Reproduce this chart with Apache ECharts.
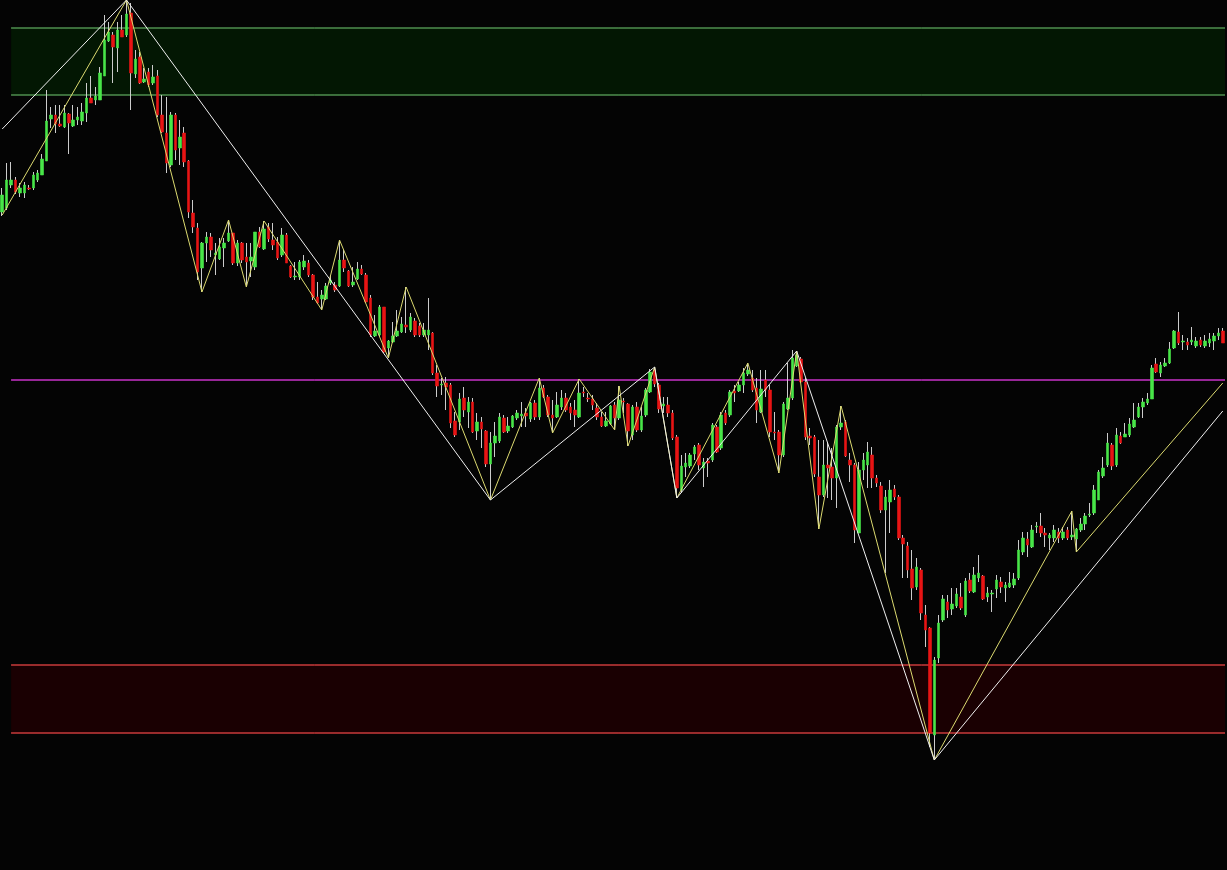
<!DOCTYPE html>
<html>
<head>
<meta charset="utf-8">
<script src="https://cdn.jsdelivr.net/npm/echarts@6/dist/echarts.min.js"></script>
<style>
html,body{margin:0;padding:0;background:#040404;}
#chart{width:1227px;height:870px;}
</style>
</head>
<body>
<div id="chart"></div>
<script>
// ---- candle data (open, close, low, high) ----
const opens = [
658,662,685,690,677,677,682,682,690,695,
709,751,755,746,743,756,744,750,749,757,
772,770,770,794,829,835,822,840,835,857,
796,813,788,798,787,794,755,737,705,755,
722,737,709,657,642,602,627,633,615,611,
622,629,637,607,627,613,609,603,638,621,
643,630,628,615,635,604,593,593,603,607,
595,573,571,571,587,585,584,610,599,585,
591,601,595,572,534,535,563,522,528,534,
538,545,540,549,544,535,535,537,497,485,
487,485,449,448,472,458,468,439,448,439,
406,427,429,452,439,443,452,454,457,451,
467,453,482,473,455,453,463,472,463,460,
453,478,472,471,462,453,444,446,465,452,
469,466,435,463,440,455,478,500,485,464,
465,457,433,380,403,404,416,425,402,409,
410,443,422,457,455,479,479,485,496,492,
482,458,490,480,438,438,415,461,472,504,
511,488,434,433,393,375,405,403,392,443,
448,410,405,337,400,405,415,392,384,360,
368,381,373,332,324,301,283,300,255,242,
135,212,250,268,261,264,273,255,290,278,
292,294,273,276,281,288,282,283,285,292,
318,331,323,343,344,337,332,332,338,332,
340,333,331,340,346,355,357,370,394,405,
425,405,434,433,435,443,453,463,467,471,
506,497,504,507,522,538,528,528,528,524,
530,524,527,529,534,539
];
const closes = [
675,690,690,678,682,685,681,695,697,711,
749,755,746,744,757,747,750,753,758,772,
767,774,797,830,838,823,840,833,856,797,
811,787,791,785,793,755,738,707,755,720,
733,708,658,643,598,627,633,620,617,623,
627,637,607,627,610,608,613,638,623,641,
631,625,612,635,607,593,594,608,609,595,
573,567,575,584,590,580,610,602,584,588,
601,596,568,535,539,563,518,529,534,539,
546,543,553,535,535,540,540,497,484,486,
483,447,435,471,460,468,438,448,441,406,
427,434,453,438,444,454,457,456,454,467,
453,482,473,455,452,465,472,460,457,455,
477,477,471,465,453,444,449,464,452,470,
468,439,463,440,454,480,498,486,461,466,
457,432,382,404,407,415,423,405,408,407,
445,418,455,447,478,477,485,497,500,480,
460,481,480,438,437,415,466,472,512,515,
488,433,432,396,375,405,402,392,443,447,
414,405,340,400,410,418,392,387,360,373,
380,373,332,326,300,282,303,257,240,137,
210,247,271,260,266,276,262,289,279,295,
297,271,277,277,290,283,285,287,291,320,
332,325,340,344,337,335,335,340,332,338,
332,335,341,346,354,356,380,398,402,427,
404,435,427,436,446,450,463,468,471,502,
498,505,507,521,539,527,529,525,530,529,
525,529,531,534,537,527
];
const lows = [
654,660,682,676,673,672,680,680,688,695,
709,742,737,743,742,716,743,745,745,748,
767,765,770,794,828,787,798,833,833,760,
792,786,787,783,785,753,737,697,703,710,
705,703,652,637,590,578,608,613,595,610,
603,628,605,604,607,583,593,600,622,620,
628,620,610,613,607,592,590,590,600,593,
570,567,560,570,585,578,583,598,583,583,
590,595,567,533,533,533,517,512,527,533,
537,537,538,533,533,533,520,495,473,475,
460,442,433,440,453,442,437,430,422,403,
370,413,427,437,437,442,450,443,443,448,
450,450,472,453,437,452,460,458,450,443,
452,473,468,460,450,443,443,445,440,450,
457,424,430,438,438,453,477,483,457,457,
453,430,372,377,393,402,410,400,383,393,
408,417,420,445,453,468,478,477,494,478,
447,457,473,433,430,397,413,460,470,503,
487,430,425,393,341,373,372,370,362,440,
413,388,327,337,390,382,382,383,357,297,
337,370,330,292,292,270,280,250,223,123,
110,207,248,252,255,262,260,253,277,277,
288,270,268,258,272,277,268,282,282,290,
315,313,322,337,333,323,320,328,327,330,
330,330,318,338,340,353,355,370,392,403,
400,403,426,433,433,442,452,452,465,471,
497,493,503,506,521,525,520,520,525,522,
523,522,523,520,530,527
];
const highs = [
682,707,708,693,687,688,685,698,700,716,
780,763,765,765,765,757,765,763,767,787,
794,783,803,855,848,838,848,855,870,867,
820,818,802,802,805,800,775,773,758,757,
750,743,710,670,647,628,638,637,627,632,
632,650,637,630,628,627,627,638,643,649,
647,647,633,642,637,605,608,610,615,610,
596,588,580,587,595,588,630,620,600,603,
608,605,597,575,555,565,563,530,548,560,
553,583,557,552,547,547,572,538,505,492,
493,487,458,477,483,473,472,457,453,440,
438,448,457,455,453,455,460,468,462,468,
470,492,485,475,470,478,480,477,467,470,
491,483,477,475,467,458,458,465,468,484,
472,467,465,468,463,482,501,503,487,473,
473,460,435,415,417,417,425,427,412,412,
447,445,458,460,480,485,488,502,507,500,
492,500,500,485,458,440,468,507,520,519,
513,492,442,435,430,430,428,422,445,464,
450,417,407,408,417,428,423,395,388,380,
390,385,375,335,328,320,312,302,265,243,
213,255,275,275,282,282,287,292,297,303,
315,295,283,280,295,293,288,298,297,330,
338,338,345,348,357,342,337,345,342,343,
343,359,342,352,357,367,385,400,413,437,
427,442,438,447,452,467,467,472,477,505,
512,508,512,528,540,558,535,532,543,533,
533,535,537,537,542,542
];

// ---- zigzag pivots (bar index, price) ----
const yellowIdx = [0,28,45,51,55,59,72,76,87,91,110,121,124,130,138,139,141,147,152,168,175,179,184,189,210,241,242,275];
const yellowVal = [655,870,578,650,583,649,560,630,512,583,370,492,437,491,440,484,424,503,372,507,397,519,341,464,110,359,318,487];
const whiteIdx = [0,28,110,147,152,179,210,275];
const whiteVal = [741,870,370,503,372,519,110,459];

// ---- levels ----
const greenZone = [775, 842];
const redZone = [137, 205];
const pivotLevel = 490;
const zoneStart = 2;

const categories = opens.map((_, i) => String(i + 1));

const wickData = opens.map((o, i) => [o, closes[i], lows[i], highs[i]]);
const bodyData = opens.map((o, i) => [o, closes[i], Math.min(o, closes[i]), Math.max(o, closes[i])]);
const yellowData = yellowIdx.map((x, i) => [x, yellowVal[i]]);
const whiteData = whiteIdx.map((x, i) => [x, whiteVal[i]]);

function band(lo, hi, fill) {
  return [{xAxis: zoneStart, yAxis: lo, itemStyle: {color: fill, borderWidth: 0}}, {yAxis: hi}];
}
function hline(v, color) {
  return [{xAxis: zoneStart, yAxis: v, itemStyle: {color: 'rgba(0,0,0,0)', borderColor: color, borderWidth: 1}}, {yAxis: v}];
}

const chart = echarts.init(document.getElementById('chart'), null, {renderer: 'canvas'});
chart.setOption({
  backgroundColor: '#040404',
  animation: false,
  grid: {left: -1.5, right: 2, top: 0, bottom: 0, containLabel: false},
  xAxis: {type: 'category', data: categories, show: false, boundaryGap: true},
  yAxis: {type: 'value', min: 0, max: 870, show: false, splitLine: {show: false}},
  series: [
    {
      name: 'wicks', type: 'candlestick', data: wickData, barWidth: 1, z: 2, silent: true,
      itemStyle: {color: '#cccccc', color0: '#cccccc', borderColor: '#cccccc', borderColor0: '#cccccc', borderWidth: 1},
      markArea: {
        silent: true,
        data: [
          band(greenZone[0], greenZone[1], '#031703'),
          band(redZone[0], redZone[1], '#1a0002'),
          hline(greenZone[0], '#4e8e4e'),
          hline(greenZone[1], '#4e8e4e'),
          hline(redZone[0], '#c83a3a'),
          hline(redZone[1], '#c83a3a'),
          hline(pivotLevel, '#c832c8')
        ]
      }
    },
    {
      name: 'bodies', type: 'candlestick', data: bodyData, barWidth: 3, z: 3, silent: true,
      itemStyle: {color: '#48e648', color0: '#e81414', borderColor: '#48e648', borderColor0: '#e81414', borderWidth: 0.6}
    },
    {
      name: 'zigzag fast', type: 'line', data: yellowData, z: 4, silent: true,
      symbol: 'none', lineStyle: {color: '#dcda70', width: 1}
    },
    {
      name: 'zigzag slow', type: 'line', data: whiteData, z: 5, silent: true,
      symbol: 'none', lineStyle: {color: '#f0f0f0', width: 1}
    }
  ]
});
</script>
</body>
</html>
